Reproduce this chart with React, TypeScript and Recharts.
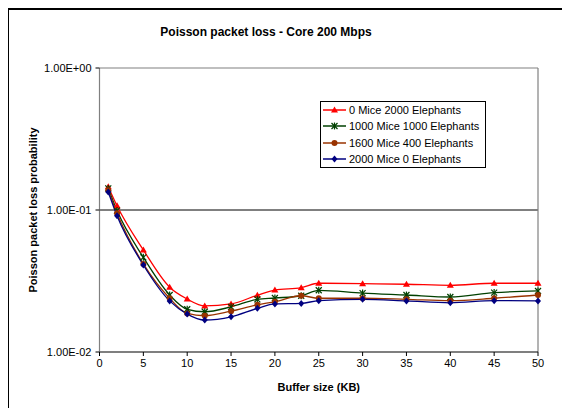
import React from 'react';
import {
  LineChart,
  Line,
  XAxis,
  YAxis,
  ReferenceLine,
} from 'recharts';

// buffer sizes (KB) on the x axis
const bufferSizes = [1, 2, 5, 8, 10, 12, 15, 18, 20, 23, 25, 30, 35, 40, 45, 50];

// loss probability per series
const mice0 = [0.146, 0.107, 0.0523, 0.0286, 0.0236, 0.0211, 0.0218, 0.0251, 0.0273, 0.0284, 0.0305, 0.0303, 0.03, 0.0295, 0.0305, 0.0305];
const mice1000 = [0.142, 0.099, 0.0464, 0.0252, 0.02, 0.0192, 0.0208, 0.0235, 0.024, 0.0249, 0.0272, 0.026, 0.0252, 0.0244, 0.0262, 0.0269];
const mice1600 = [0.138, 0.0948, 0.0417, 0.0239, 0.0187, 0.018, 0.0194, 0.0215, 0.0226, 0.0249, 0.0239, 0.0239, 0.0235, 0.023, 0.0239, 0.0252];
const mice2000 = [0.134, 0.0912, 0.041, 0.0229, 0.0185, 0.0168, 0.0177, 0.0203, 0.0218, 0.022, 0.023, 0.0235, 0.0229, 0.0222, 0.023, 0.0229];

const xTicks = [0, 5, 10, 15, 20, 25, 30, 35, 40, 45, 50];
const yTicks = [0.01, 0.1, 1];
const yTickLabels = ['1.00E-02', '1.00E-01', '1.00E+00'];

const data = bufferSizes.map((b, i) => ({
  buffer: b,
  a: mice0[i],
  b: mice1000[i],
  c: mice1600[i],
  d: mice2000[i],
}));

const FONT = 'Liberation Sans, Arial, sans-serif';

const Triangle = ({ cx, cy, color }: any) => (
  <polygon
    points={`${cx},${cy - 3.5} ${cx + 3.5},${cy + 2.5} ${cx - 3.5},${cy + 2.5}`}
    fill={color}
  />
);

const Star = ({ cx, cy, color }: any) => (
  <g stroke={color} strokeWidth={1.2}>
    <line x1={cx - 3} y1={cy - 3} x2={cx + 3} y2={cy + 3} />
    <line x1={cx - 3} y1={cy + 3} x2={cx + 3} y2={cy - 3} />
    <line x1={cx} y1={cy - 3.5} x2={cx} y2={cy + 3.5} />
  </g>
);

const Circle = ({ cx, cy, color }: any) => <circle cx={cx} cy={cy} r={3} fill={color} />;

const Diamond = ({ cx, cy, color }: any) => (
  <polygon
    points={`${cx},${cy - 3.5} ${cx + 3},${cy} ${cx},${cy + 3.5} ${cx - 3},${cy}`}
    fill={color}
  />
);

const series = [
  { key: 'a', name: '0 Mice 2000 Elephants', color: '#ff0000', Marker: Triangle },
  { key: 'b', name: '1000 Mice 1000 Elephants', color: '#004000', Marker: Star },
  { key: 'c', name: '1600 Mice 400 Elephants', color: '#993300', Marker: Circle },
  { key: 'd', name: '2000 Mice 0 Elephants', color: '#000080', Marker: Diamond },
];

const LegendBox = () => (
  <div
    style={{
      position: 'absolute',
      left: 312,
      top: 93,
      border: '1px solid #000',
      background: '#fff',
      padding: '0px 4px 0px 2px',
      fontFamily: FONT,
      fontSize: 11,
      color: '#000',
      width: 158,
    }}
  >
    {series.map((s) => (
      <div key={s.key} style={{ display: 'flex', alignItems: 'center', height: 16.3 }}>
        <svg width={24} height={10} style={{ marginRight: 2 }}>
          <line x1={0} y1={5} x2={23} y2={5} stroke={s.color} strokeWidth={1.5} />
          <s.Marker cx={11.5} cy={5} color={s.color} />
        </svg>
        <span>{s.name}</span>
      </div>
    ))}
  </div>
);

const App: React.FC = () => {
  return (
    <div style={{ position: 'relative', width: 562, height: 400, fontFamily: FONT }}>
      <div
        style={{
          position: 'absolute',
          left: -1,
          top: 0,
          width: 600,
          height: 420,
          borderLeft: '2px solid #000',
          borderTop: '2px solid #000',
        }}
      />
      <div
        style={{
          position: 'absolute',
          left: 0,
          width: 516,
          top: 17,
          textAlign: 'center',
          fontWeight: 'bold',
          fontSize: 12,
        }}
      >
        Poisson packet loss - Core 200 Mbps
      </div>
      <div
        style={{
          position: 'absolute',
          left: 91.5,
          width: 438.5,
          top: 373,
          textAlign: 'center',
          fontWeight: 'bold',
          fontSize: 11,
        }}
      >
        Buffer size (KB)
      </div>
      <LineChart
        width={562}
        height={400}
        data={data}
        margin={{ top: 60, right: 32, left: 0, bottom: 26 }}
        style={{ position: 'absolute', left: 0, top: 0 }}
      >
        <XAxis
          dataKey="buffer"
          type="number"
          domain={[0, 50]}
          ticks={xTicks}
          height={30}
          axisLine={{ stroke: '#000', strokeWidth: 1.2 }}
          tickLine={{ stroke: '#000' }}
          tickSize={4}
          tickMargin={3}
          tick={{ fill: '#000', fontSize: 11, fontFamily: FONT }}
        />
        <YAxis
          scale="log"
          domain={[0.01, 1]}
          ticks={yTicks}
          width={91.5}
          allowDataOverflow
          axisLine={{ stroke: '#808080', strokeWidth: 1.2 }}
          tickLine={{ stroke: '#000' }}
          tickSize={4}
          tickMargin={4}
          tick={{ fill: '#000', fontSize: 11, fontFamily: FONT }}
          tickFormatter={(v: number) => yTickLabels[yTicks.indexOf(v)] ?? ''}
          label={{
            value: 'Poisson packet loss probability',
            angle: -90,
            position: 'center',
            dx: -21,
            style: { fontWeight: 'bold', fontSize: 11, fill: '#000', fontFamily: FONT },
          }}
        />
        <ReferenceLine y={0.1} stroke="#000" strokeWidth={1} />
        <ReferenceLine y={1} stroke="#808080" strokeWidth={1.2} />
        <ReferenceLine x={50} stroke="#808080" strokeWidth={1.2} />
        {series.map((s) => (
          <Line
            key={s.key}
            type="monotone"
            dataKey={s.key}
            name={s.name}
            stroke={s.color}
            strokeWidth={1.3}
            isAnimationActive={false}
            dot={(props: any) => (
              <s.Marker key={`${s.key}-${props.index}`} cx={props.cx} cy={props.cy} color={s.color} />
            )}
          />
        ))}
      </LineChart>
      <LegendBox />
    </div>
  );
};

export default App;
